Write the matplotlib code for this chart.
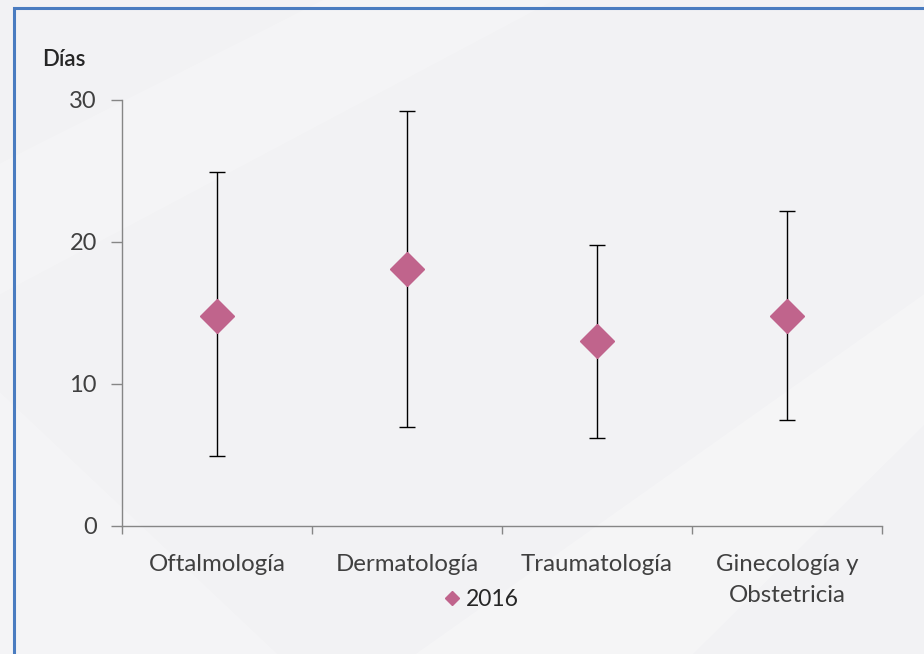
import matplotlib
matplotlib.use("Agg")
import matplotlib.pyplot as plt
import numpy as np
from matplotlib.patches import Rectangle, Polygon

categories = ["Oftalmología", "Dermatología", "Traumatología", "Ginecología y\nObstetricia"]
values = [14.8, 18.1, 13.0, 14.8]
upper = [24.9, 29.2, 19.8, 22.2]
lower = [4.9, 7.0, 6.2, 7.5]
series_name = "2016"
yticks = [0, 10, 20, 30]

plt.rcParams['font.family'] = ['Lato', 'DejaVu Sans']

fig = plt.figure(figsize=(9.24, 6.54), dpi=100)
fig.patch.set_facecolor('#f2f2f4')

# subtle background streaks
bg = fig.add_axes([0, 0, 1, 1], zorder=-10)
bg.set_xlim(0, 1); bg.set_ylim(0, 1); bg.axis('off')
bg.add_patch(Polygon([[0.0, 0.75], [0.35, 1.0], [0.6, 1.0], [0.0, 0.55]], closed=True,
                     facecolor='white', alpha=0.2, edgecolor='none'))
bg.add_patch(Polygon([[0.45, 0.0], [0.75, 0.0], [1.0, 0.35], [1.0, 0.55]], closed=True,
                     facecolor='white', alpha=0.25, edgecolor='none'))
bg.add_patch(Polygon([[0.0, 0.0], [0.3, 0.0], [0.0, 0.4]], closed=True,
                     facecolor='white', alpha=0.2, edgecolor='none'))
# blue frame
bg.add_patch(Rectangle((14/924, -0.1), 2.0, 1 - 8/654 + 0.1, transform=bg.transAxes,
                       facecolor='none', edgecolor='#4a7cc0', linewidth=2.2))

ax = fig.add_axes([122/924, 1 - 526/654, 760/924, 426/654])
ax.set_facecolor('none')

x = np.arange(len(categories))
vals = np.array(values)
yerr = np.array([vals - np.array(lower), np.array(upper) - vals])
ax.errorbar(x, vals, yerr=yerr, fmt='none', ecolor='black', elinewidth=1.0,
            capsize=6, capthick=1.0, zorder=2)
ax.plot(x, vals, linestyle='none', marker='D', markersize=17.5, color='#c0648c',
        markeredgecolor='#c0648c', zorder=3, label=series_name)

ax.set_xlim(-0.5, len(categories) - 0.5)
ax.set_ylim(0, 30)
ax.set_yticks(yticks)
ax.set_yticklabels([str(t) for t in yticks], fontsize=17, color='#404040')
ax.set_xticks(np.arange(-0.5, len(categories), 1.0))
ax.set_xticklabels([])
ax.set_xticks(x, minor=True)
ax.set_xticklabels(categories, minor=True, fontsize=17.3, color='#404040', linespacing=1.62)
ax.tick_params(axis='x', which='major', length=6, color='#868686', width=1)
ax.tick_params(axis='x', which='minor', length=0, pad=20)
ax.tick_params(axis='y', length=8, color='#868686', width=1, pad=10)
for s in ['top', 'right']:
    ax.spines[s].set_visible(False)
for s in ['left', 'bottom']:
    ax.spines[s].set_color('#868686')
    ax.spines[s].set_linewidth(1)

fig.text(42/924, 1 - 60/654, "Días", fontsize=16, fontweight='semibold', color='#262626',
         va='center', ha='left')

leg = fig.legend(handles=[plt.Line2D([], [], linestyle='none', marker='D', markersize=7,
                                     color='#c0648c')],
                 labels=[series_name], loc='center', bbox_to_anchor=(480/924, 1 - 600/654),
                 frameon=False, fontsize=16.5, handletextpad=0.1, handlelength=1.0,
                 labelcolor='#262626')

fig.savefig("out.png", dpi=100, facecolor=fig.get_facecolor())
